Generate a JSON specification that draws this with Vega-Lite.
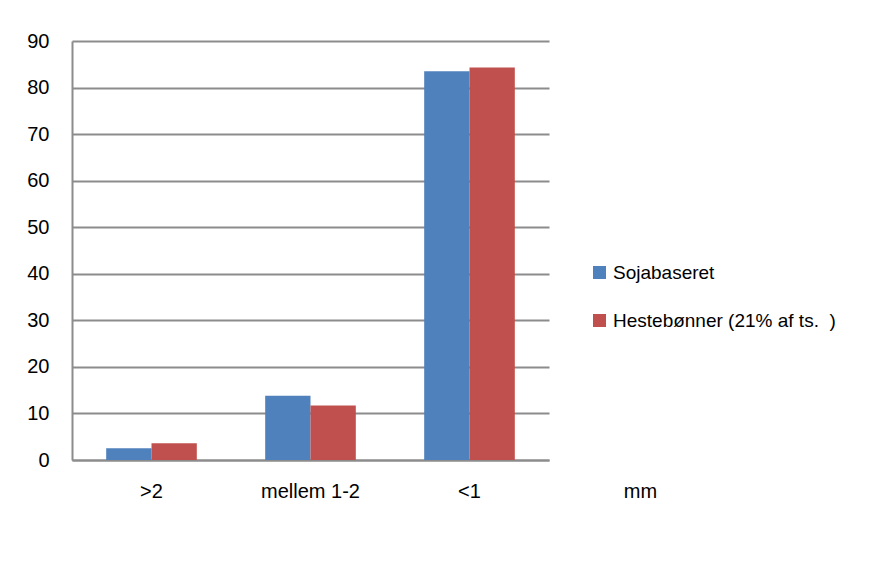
{
  "$schema": "https://vega.github.io/schema/vega-lite/v6.json",
  "width": 477,
  "height": 419,
  "autosize": "none",
  "padding": {"left": 72, "top": 41, "right": 325, "bottom": 115},
  "background": "white",
  "config": {
    "font": "Liberation Sans",
    "view": {"stroke": null}
  },
  "data": {
    "values": [
      {"size": ">2", "series": "Sojabaseret", "value": 2.5},
      {"size": ">2", "series": "Hestebønner (21% af ts.  )", "value": 3.6},
      {"size": "mellem 1-2", "series": "Sojabaseret", "value": 13.8},
      {"size": "mellem 1-2", "series": "Hestebønner (21% af ts.  )", "value": 11.7},
      {"size": "<1", "series": "Sojabaseret", "value": 83.5},
      {"size": "<1", "series": "Hestebønner (21% af ts.  )", "value": 84.3}
    ]
  },
  "mark": {"type": "bar"},
  "encoding": {
    "x": {
      "field": "size",
      "type": "nominal",
      "sort": [">2", "mellem 1-2", "<1"],
      "scale": {"paddingInner": 0.43, "paddingOuter": 0.215},
      "axis": {
        "title": "mm",
        "titleFontSize": 20,
        "titleFontWeight": "normal",
        "titleColor": "black",
        "titleX": 568,
        "titleY": 37,
        "titleAlign": "center",
        "titleBaseline": "alphabetic",
        "labelAngle": 0,
        "labelFontSize": 20,
        "labelColor": "black",
        "labelPadding": 21,
        "ticks": false,
        "domainColor": "#8c8c8c",
        "domainWidth": 2
      }
    },
    "xOffset": {
      "field": "series",
      "type": "nominal",
      "sort": ["Sojabaseret", "Hestebønner (21% af ts.  )"],
      "scale": {"paddingInner": 0, "paddingOuter": 0}
    },
    "y": {
      "field": "value",
      "type": "quantitative",
      "scale": {"domain": [0, 90], "nice": false},
      "axis": {
        "title": null,
        "values": [0, 10, 20, 30, 40, 50, 60, 70, 80, 90],
        "labelFontSize": 20,
        "labelColor": "black",
        "labelPadding": 23,
        "ticks": false,
        "domainColor": "#8c8c8c",
        "domainWidth": 2,
        "gridColor": "#8c8c8c",
        "gridWidth": 2,
        "gridOpacity": 1
      }
    },
    "color": {
      "field": "series",
      "type": "nominal",
      "sort": ["Sojabaseret", "Hestebønner (21% af ts.  )"],
      "scale": {"range": ["#4F81BD", "#C0504D"]},
      "legend": {
        "title": null,
        "orient": "none",
        "legendX": 518,
        "legendY": 222,
        "symbolType": "square",
        "symbolSize": 169,
        "symbolStrokeWidth": 0,
        "symbolOpacity": 1,
        "labelFontSize": 19,
        "labelColor": "black",
        "labelOffset": 4,
        "rowPadding": 28,
        "labelLimit": 400,
        "labelExpr": "replace(datum.label, '.  )', '.\u00a0\u00a0)')"
      }
    }
  }
}
